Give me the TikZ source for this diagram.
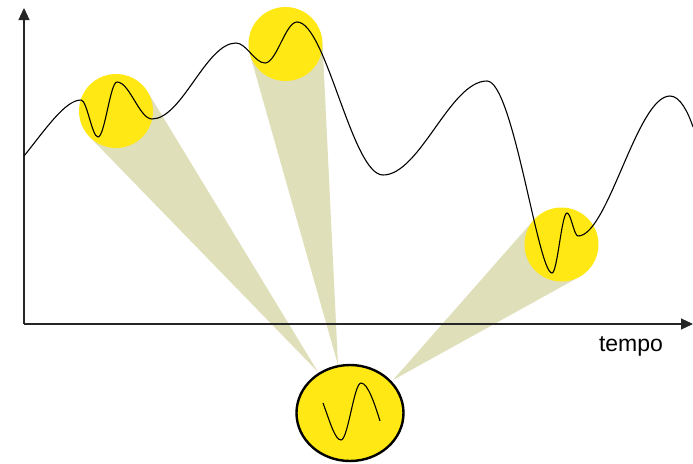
\documentclass[tikz,border=0pt]{standalone}
\usepackage{fontspec}
\setmainfont{Liberation Sans}
\usetikzlibrary{calc,arrows.meta,shapes.geometric}
\definecolor{yel}{RGB}{255,232,20}
\definecolor{conec}{RGB}{223,223,185}
\tikzset{
  spot/.style={circle, minimum size=74pt, inner sep=0pt, outer sep=0pt},
  conefill/.style={fill=conec, draw=none},
  axisline/.style={line width=1.1pt, draw=black!85, -{Triangle[length=12pt,width=11pt]}},
  wave/.style={line width=1.1pt, black},
}
\begin{document}
\begin{tikzpicture}[x=1pt,y=-1pt]
\useasboundingbox (0,0) rectangle (693,463);
% spot positions
\node[spot] (c1) at (116,111) {};
\node[spot] (c2) at (285.5,44) {};
\node[spot] (c3) at (561.5,244.5) {};
\coordinate (a1) at (318,372);
\coordinate (a2) at (338,365);
\coordinate (a3) at (393,380);
% cones
\fill[conefill] (tangent cs:node=c1,point={(a1)},solution=1) -- (a1) -- (tangent cs:node=c1,point={(a1)},solution=2) -- cycle;
\fill[conefill] (tangent cs:node=c2,point={(a2)},solution=1) -- (a2) -- (tangent cs:node=c2,point={(a2)},solution=2) -- cycle;
\fill[conefill] (tangent cs:node=c3,point={(a3)},solution=1) -- (a3) -- (tangent cs:node=c3,point={(a3)},solution=2) -- cycle;
% yellow spots
\fill[yel] (c1.center) circle (37pt);
\fill[yel] (c2.center) circle (37pt);
\fill[yel] (c3.center) circle (37pt);
% axes
\coordinate (o) at (24,324);
\coordinate (ytop) at (24,8);
\coordinate (xend) at (693,324);
\draw[axisline] (o) -- (ytop);
\draw[axisline] (o) -- (xend);
\node[font=\fontsize{23}{26}\selectfont, inner sep=0pt] (t) at (631,346) {tempo};
% signal
\draw[wave] (24,156) .. controls (45,130) and (65,100) .. (81,100)
  .. controls (87,100) and (92,137) .. (98,137)
  .. controls (104.8,137) and (110.2,82) .. (117,82)
  .. controls (129.6,82) and (139.4,119) .. (152,119)
  .. controls (182,119) and (206,43) .. (236,43)
  .. controls (246.4,43) and (254.6,63) .. (265,63)
  .. controls (276.5,63) and (285.5,22) .. (297,22)
  .. controls (326,22) and (352,175) .. (383,175)
  .. controls (420,175) and (450,81) .. (487,81)
  .. controls (513,81) and (538,273) .. (552,273)
  .. controls (557.4,273) and (561.6,213) .. (567,213)
  .. controls (571,213) and (574,236) .. (578,236)
  .. controls (608,236) and (637,96) .. (670,96)
  .. controls (680,96) and (688,112) .. (693,127);
% bottom spot
\node[ellipse, draw=black, line width=2.4pt, fill=yel, minimum width=107pt, minimum height=96pt, inner sep=0pt] (b) at (350,413) {};
\draw[wave] (323,403) .. controls (330,422) and (335,440) .. (341,440)
  .. controls (348,440) and (354,383) .. (361,383)
  .. controls (368,383) and (375,405) .. (380,421);
\end{tikzpicture}
\end{document}
